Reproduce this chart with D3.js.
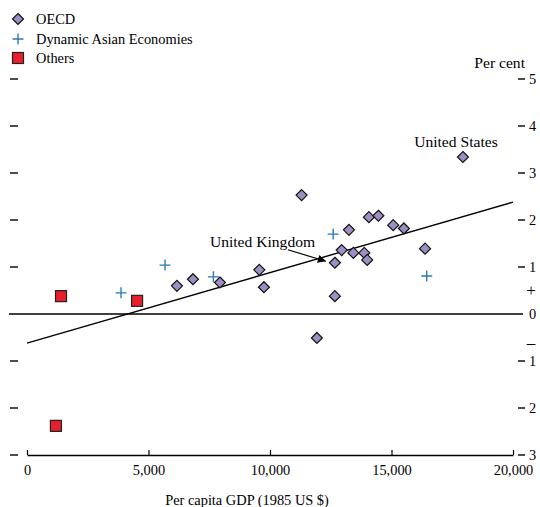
<!DOCTYPE html>
<html>
<head>
<meta charset="utf-8">
<script src="https://cdn.jsdelivr.net/npm/d3@7"></script>
<style>
html,body{margin:0;padding:0;background:#fff;}
svg{display:block;font-family:"Liberation Serif","Times New Roman",serif;}
</style>
</head>
<body>
<svg id="chart" width="540" height="507"></svg>
<script>
// ---- data ----
const oecdGDP  = [6170, 6830, 7940, 9560, 9750, 11300, 11930, 12670, 12670, 12950, 13250, 13430, 13880, 14000, 14070, 14460, 15070, 15510, 16380, 17940];
const oecdGrowth = [0.60, 0.74, 0.67, 0.94, 0.57, 2.53, -0.51, 0.38, 1.09, 1.36, 1.79, 1.30, 1.30, 1.15, 2.06, 2.09, 1.89, 1.82, 1.39, 3.34];
const daeGDP    = [3870, 5680, 7670, 12600, 16450];
const daeGrowth = [0.45, 1.04, 0.79, 1.70, 0.81];
const othGDP    = [1400, 4530, 1190];
const othGrowth = [0.38, 0.28, -2.38];
const trendGDP    = [0, 20000];
const trendGrowth = [-0.62, 2.38];
const xTicks = [0, 5000, 10000, 15000, 20000];
const yTicks = [5, 4, 3, 2, 1, 0, -1, -2, -3];
const legendLabels = ["OECD", "Dynamic Asian Economies", "Others"];
const annUS = {label: "United States", gdp: 17940, growth: 3.34};
const annUK = {label: "United Kingdom", gdp: 12670, growth: 1.09};

// ---- layout ----
const svg = d3.select("#chart");
const x = d3.scaleLinear().domain([0, 20000]).range([27, 513]);
const y = d3.scaleLinear().domain([-3, 5]).range([455, 79]);
const colOECD = "#9d8fc4", colDAE = "#2a7ab8", colOth = "#e8202e";
const tickFont = 14.4, annFont = 15.6;

// left/right dashes
yTicks.filter(d => d !== 0).forEach(d => {
  svg.append("line").attr("x1", 10).attr("x2", 18).attr("y1", y(d)).attr("y2", y(d))
    .attr("stroke", "#000").attr("stroke-width", 1.4);
  svg.append("line").attr("x1", 518).attr("x2", 525).attr("y1", y(d)).attr("y2", y(d))
    .attr("stroke", "#000").attr("stroke-width", 1.4);
});
// right labels
yTicks.forEach(d => {
  svg.append("text").attr("x", 529).attr("y", y(d)).attr("dy", "0.35em")
    .attr("font-size", tickFont).text(Math.abs(d));
});
svg.append("text").attr("x", 531).attr("y", y(0.5)).attr("dy", "0.35em")
  .attr("text-anchor", "middle").attr("font-size", 17).text("+");
svg.append("text").attr("x", 531).attr("y", y(-0.6)).attr("dy", "0.35em")
  .attr("text-anchor", "middle").attr("font-size", 17).text("\u2013");
svg.append("text").attr("x", 525).attr("y", 63).attr("dy", "0.35em")
  .attr("text-anchor", "end").attr("font-size", annFont).text("Per cent");

// zero line
svg.append("line").attr("x1", 9).attr("x2", 523).attr("y1", y(0)).attr("y2", y(0))
  .attr("stroke", "#000").attr("stroke-width", 1.3);

// x axis
const xAxis = d3.axisBottom(x).tickValues(xTicks).tickSize(0).tickPadding(10)
  .tickFormat(d3.format(","));
const gx = svg.append("g").attr("transform", `translate(0,${y(-3)})`).call(xAxis);
gx.select(".domain").attr("stroke", "#000").attr("stroke-width", 1.3);
gx.selectAll(".tick text").attr("font-family", "Liberation Serif").attr("font-size", tickFont).attr("fill", "#000");
gx.selectAll(".tick").append("line").attr("y1", 0).attr("y2", -5).attr("stroke", "#000").attr("stroke-width", 1.2);
svg.append("text").attr("x", 247).attr("y", 500).attr("dy", "0.35em")
  .attr("text-anchor", "middle").attr("font-size", tickFont).text("Per capita GDP (1985 US $)");

// trend line
svg.append("line")
  .attr("x1", x(trendGDP[0])).attr("y1", y(trendGrowth[0]))
  .attr("x2", x(trendGDP[1])).attr("y2", y(trendGrowth[1]))
  .attr("stroke", "#000").attr("stroke-width", 1.4);

// symbols
const diamond = "M0,-5.5L5.5,0L0,5.5L-5.5,0Z";
const cross = "M-5.5,0H5.5M0,-5.5V5.5";
function drawDiamond(g, cx, cy) {
  g.append("path").attr("d", diamond).attr("transform", `translate(${cx},${cy})`)
    .attr("fill", colOECD).attr("stroke", "#111").attr("stroke-width", 1.2);
}
function drawCross(g, cx, cy) {
  g.append("path").attr("d", cross).attr("transform", `translate(${cx},${cy})`)
    .attr("fill", "none").attr("stroke", colDAE).attr("stroke-width", 1.4);
}
function drawSquare(g, cx, cy) {
  g.append("rect").attr("x", cx - 5.5).attr("y", cy - 5.5).attr("width", 11).attr("height", 11)
    .attr("fill", colOth).attr("stroke", "#222").attr("stroke-width", 1.2);
}
const pts = svg.append("g");
othGDP.forEach((v, i) => drawSquare(pts, x(v), y(othGrowth[i])));
daeGDP.forEach((v, i) => drawCross(pts, x(v), y(daeGrowth[i])));
oecdGDP.forEach((v, i) => drawDiamond(pts, x(v), y(oecdGrowth[i])));

// legend
const leg = svg.append("g");
const legY = [19, 39, 58];
drawDiamond(leg, 18, legY[0]);
drawCross(leg, 18, legY[1]);
drawSquare(leg, 18, legY[2]);
legendLabels.forEach((t, i) => {
  leg.append("text").attr("x", 36).attr("y", legY[i]).attr("dy", "0.35em")
    .attr("font-size", tickFont).text(t);
});

// annotations
svg.append("text").attr("x", x(annUS.gdp) - 7).attr("y", y(annUS.growth) - 15).attr("dy", "0.35em")
  .attr("text-anchor", "middle").attr("font-size", annFont).text(annUS.label);

const ukX = x(annUK.gdp), ukY = y(annUK.growth);
svg.append("text").attr("x", ukX - 125).attr("y", ukY - 21).attr("dy", "0.35em")
  .attr("font-size", annFont).text(annUK.label);
svg.append("defs").append("marker").attr("id", "ah")
  .attr("viewBox", "0 0 10 10").attr("refX", 10).attr("refY", 5)
  .attr("markerWidth", 14).attr("markerHeight", 8).attr("markerUnits", "userSpaceOnUse")
  .attr("orient", "auto")
  .append("path").attr("d", "M0,0L10,5L0,10Z").attr("fill", "#000");
svg.append("line").attr("x1", ukX - 47).attr("y1", ukY - 13)
  .attr("x2", ukX - 9).attr("y2", ukY - 1.5)
  .attr("stroke", "#000").attr("stroke-width", 1.2).attr("marker-end", "url(#ah)");
</script>
</body>
</html>
